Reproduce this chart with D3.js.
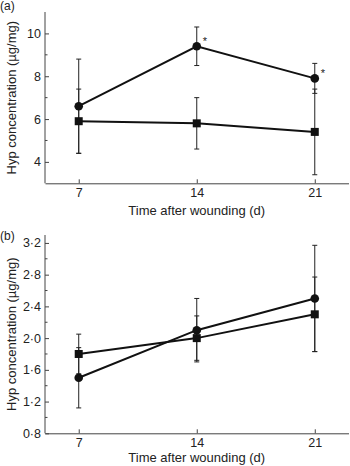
<!DOCTYPE html>
<html>
<head>
<meta charset="utf-8">
<script src="https://cdn.jsdelivr.net/npm/d3@7"></script>
<style>
  body { margin: 0; background: #fff; }
  svg { display: block; font-family: "Liberation Sans", Arial, sans-serif; }
</style>
</head>
<body>
<div id="chart"></div>
<script>
// days after wounding
const days = [7, 14, 21];

// panel (a)
const aCircle = [6.6, 9.4, 7.9];
const aCircleErr = [2.2, 0.9, 0.7];
const aSquare = [5.9, 5.8, 5.4];
const aSquareErr = [1.5, 1.2, 2.0];
const aStars = [14, 21];
const aTicks = [4, 6, 8, 10];

// panel (b)
const bCircle = [1.5, 2.1, 2.5];
const bCircleErr = [0.38, 0.4, 0.67];
const bSquare = [1.8, 2.0, 2.3];
const bSquareErr = [0.25, 0.28, 0.47];
const bTicks = [0.8, 1.2, 1.6, 2.0, 2.4, 2.8, 3.2];

const width = 350, height = 466;

const svg = d3.select("#chart")
  .append("svg")
  .attr("width", width)
  .attr("height", height);

const x = d3.scaleLinear().domain([5, 23]).range([45, 348.5]);

function panel(opts) {
  const y = d3.scaleLinear().domain(opts.yDomain).range([opts.bottom, opts.top]);
  const g = svg.append("g");

  // Y axis (ticks point inward)
  const yAxis = g.append("g")
    .attr("transform", `translate(${x.range()[0]},0)`)
    .call(d3.axisLeft(y).tickValues(opts.ticks).tickSize(-4).tickSizeOuter(0)
      .tickFormat(opts.fmt));
  yAxis.select(".domain").attr("d", `M0,${opts.bottom}V${opts.top}`);
  // minor ticks
  yAxis.selectAll(".minor")
    .data(opts.minor)
    .join("line")
    .attr("class", "minor")
    .attr("x1", 0).attr("x2", 2.5)
    .attr("y1", d => y(d)).attr("y2", d => y(d));

  // X axis
  const xAxis = g.append("g")
    .attr("transform", `translate(0,${opts.bottom})`)
    .call(d3.axisBottom(x).tickValues(days).tickSize(-4).tickSizeOuter(0));

  [yAxis, xAxis].forEach(ax => {
    ax.selectAll(".domain, line").attr("stroke", "#444").attr("stroke-width", 1);
    ax.selectAll("text").attr("fill", "#222").style("font-size", "12.5px");
  });
  yAxis.selectAll(".tick text").attr("x", -4);
  xAxis.selectAll(".tick text").attr("y", 5);

  // error bars
  const series = [
    {vals: opts.circle, err: opts.circleErr},
    {vals: opts.square, err: opts.squareErr}
  ];
  series.forEach(s => {
    const eb = g.append("g").attr("stroke", "#222").attr("stroke-width", 1);
    eb.selectAll(".v")
      .data(days)
      .join("line")
      .attr("x1", d => x(d)).attr("x2", d => x(d))
      .attr("y1", (d, i) => y(s.vals[i] - s.err[i]))
      .attr("y2", (d, i) => y(s.vals[i] + s.err[i]));
    [-1, 1].forEach(sign => {
      eb.selectAll(null)
        .data(days)
        .join("line")
        .attr("x1", d => x(d) - 2.5).attr("x2", d => x(d) + 2.5)
        .attr("y1", (d, i) => y(s.vals[i] + sign * s.err[i]))
        .attr("y2", (d, i) => y(s.vals[i] + sign * s.err[i]));
    });
  });

  // lines
  const line = d3.line().x((d, i) => x(days[i])).y(d => y(d));
  [opts.circle, opts.square].forEach(vals => {
    g.append("path")
      .datum(vals)
      .attr("d", line)
      .attr("fill", "none")
      .attr("stroke", "#111")
      .attr("stroke-width", 2);
  });

  // markers
  g.selectAll(".dot")
    .data(opts.circle)
    .join("circle")
    .attr("cx", (d, i) => x(days[i]))
    .attr("cy", d => y(d))
    .attr("r", 4.3)
    .attr("fill", "#111");
  g.selectAll(".sq")
    .data(opts.square)
    .join("rect")
    .attr("x", (d, i) => x(days[i]) - 4)
    .attr("y", d => y(d) - 4)
    .attr("width", 8).attr("height", 8)
    .attr("fill", "#111");

  // asterisks
  if (opts.stars) {
    g.selectAll(".star")
      .data(opts.stars)
      .join("text")
      .attr("x", d => x(d) + 6)
      .attr("y", d => y(opts.circle[days.indexOf(d)]) - 1)
      .style("font-size", "11px")
      .attr("fill", "#222")
      .text("*");
  }

  // panel letter
  g.append("text")
    .attr("x", 0).attr("y", opts.labelY)
    .style("font-size", "12px")
    .attr("fill", "#222")
    .text(opts.label);

  // Y axis label
  g.append("text")
    .attr("transform", "rotate(-90)")
    .attr("x", -(opts.top + opts.bottom) / 2)
    .attr("y", 16)
    .attr("text-anchor", "middle")
    .style("font-size", "13px")
    .attr("fill", "#222")
    .text("Hyp concentration (µg/mg)");

  // X axis label
  g.append("text")
    .attr("x", x(14))
    .attr("y", opts.bottom + opts.xLabelGap)
    .attr("text-anchor", "middle")
    .style("font-size", "13px")
    .attr("fill", "#222")
    .text("Time after wounding (d)");
}

panel({
  label: "(a)", labelY: 10,
  top: 12, bottom: 183.3,
  yDomain: [3, 11],
  ticks: aTicks, minor: [5, 7, 9],
  fmt: d3.format("d"),
  circle: aCircle, circleErr: aCircleErr,
  square: aSquare, squareErr: aSquareErr,
  stars: aStars, xLabelGap: 31.5
});

panel({
  label: "(b)", labelY: 240,
  top: 235, bottom: 433.3,
  yDomain: [0.8, 3.3],
  ticks: bTicks, minor: [1.0, 1.4, 1.8, 2.2, 2.6, 3.0],
  fmt: d => d3.format(".1f")(d).replace(".", "·"),
  circle: bCircle, circleErr: bCircleErr,
  square: bSquare, squareErr: bSquareErr,
  xLabelGap: 29
});
</script>
</body>
</html>
